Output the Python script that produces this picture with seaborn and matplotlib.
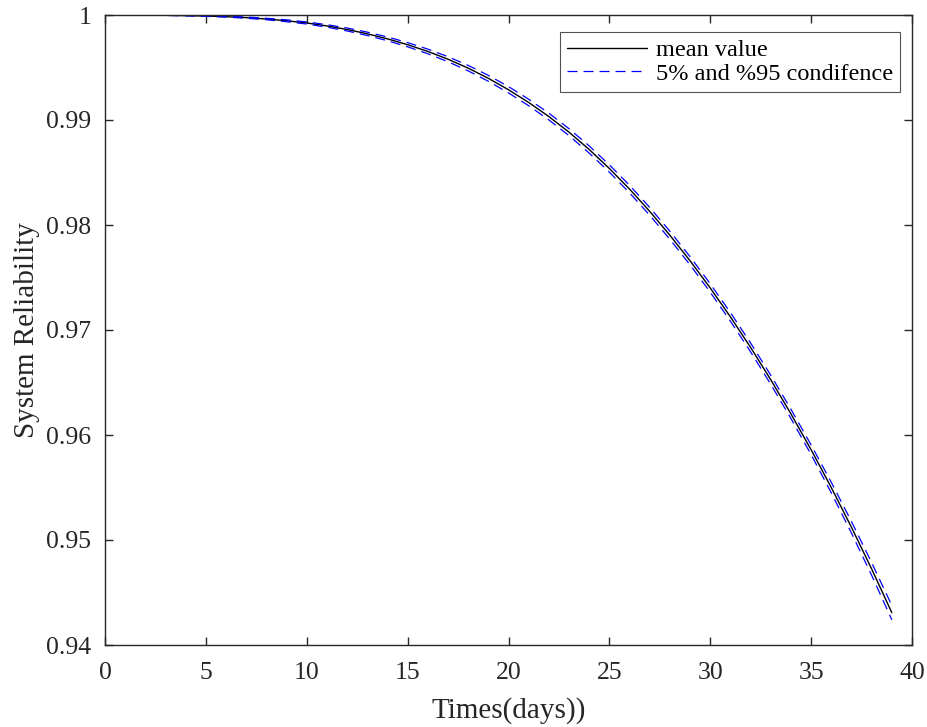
import matplotlib
matplotlib.use("Agg")
import matplotlib.pyplot as plt
import seaborn as sns
import pandas as pd

# Days over which the system reliability is evaluated
days = list(range(0, 40))

# Mean system reliability per day
mean_rel = [1.00000, 1.00000, 0.99999, 0.99997, 0.99994, 0.99990, 0.99984, 0.99975,
            0.99962, 0.99945, 0.99924, 0.99896, 0.99862, 0.99821, 0.99773, 0.99717,
            0.99653, 0.99579, 0.99494, 0.99397, 0.99288, 0.99167, 0.99033, 0.98884,
            0.98719, 0.98538, 0.98342, 0.98130, 0.97902, 0.97659, 0.97400, 0.97125,
            0.96834, 0.96526, 0.96201, 0.95859, 0.95499, 0.95121, 0.94724, 0.94308]

# 95% confidence bound (upper)
upper_rel = [1.00000, 1.00000, 0.99999, 0.99998, 0.99996, 0.99993, 0.99988, 0.99981,
             0.99969, 0.99954, 0.99934, 0.99908, 0.99876, 0.99837, 0.99791, 0.99737,
             0.99675, 0.99603, 0.99520, 0.99425, 0.99318, 0.99198, 0.99065, 0.98917,
             0.98753, 0.98573, 0.98378, 0.98167, 0.97940, 0.97698, 0.97440, 0.97166,
             0.96876, 0.96569, 0.96245, 0.95905, 0.95549, 0.95176, 0.94784, 0.94376]

# 5% confidence bound (lower)
lower_rel = [1.00000, 1.00000, 0.99999, 0.99996, 0.99992, 0.99987, 0.99980, 0.99969,
             0.99955, 0.99936, 0.99914, 0.99884, 0.99848, 0.99805, 0.99755, 0.99697,
             0.99631, 0.99555, 0.99468, 0.99369, 0.99258, 0.99136, 0.99001, 0.98851,
             0.98685, 0.98503, 0.98306, 0.98093, 0.97864, 0.97620, 0.97360, 0.97084,
             0.96792, 0.96483, 0.96157, 0.95813, 0.95449, 0.95066, 0.94664, 0.94240]

x_ticks = [0, 5, 10, 15, 20, 25, 30, 35, 40]
y_ticks = [0.94, 0.95, 0.96, 0.97, 0.98, 0.99, 1.00]
y_tick_labels = ["0.94", "0.95", "0.96", "0.97", "0.98", "0.99", "1"]

df = pd.DataFrame({"day": days, "mean": mean_rel,
                   "upper": upper_rel, "lower": lower_rel})

sns.set_theme(style="white")
plt.rcParams["font.family"] = ["Liberation Serif", "DejaVu Serif"]

FS_TICK = 18.5
FS_LABEL = 21.0
FS = 17.5
INK = "#262626"

fig = plt.figure(figsize=(9.27, 7.27), dpi=100)
ax = fig.add_axes([105 / 927, 1 - 645 / 727, (912 - 105) / 927, (645 - 15) / 727])

dash = (0, (8.0, 4.8))
sns.lineplot(data=df, x="day", y="mean", ax=ax, color="black", lw=1.0,
             label="mean value")
sns.lineplot(data=df, x="day", y="lower", ax=ax, color="#0000ff", lw=0.9,
             linestyle=dash, label="5% and %95 condifence")
sns.lineplot(data=df, x="day", y="upper", ax=ax, color="#0000ff", lw=0.9,
             linestyle=dash, label="_nolegend_")

ax.set_xlim(0, 40)
ax.set_ylim(0.94, 1.0)
ax.set_xticks(x_ticks)
ax.set_xticklabels([str(t) for t in x_ticks])
ax.set_yticks(y_ticks)
ax.set_yticklabels(y_tick_labels)

ax.tick_params(axis="both", which="both", direction="in", length=6, width=1.0,
               colors=INK, labelsize=FS_TICK, top=True, right=True,
               bottom=True, left=True)
ax.tick_params(axis="y", pad=10)
ax.tick_params(axis="x", pad=12)
for sp in ax.spines.values():
    sp.set_visible(True)
    sp.set_color(INK)
    sp.set_linewidth(1.0)

ax.set_xlabel("Times(days))", fontsize=FS_LABEL, color=INK, labelpad=10)
ax.set_ylabel("System Reliability", fontsize=FS_LABEL, color=INK, labelpad=4)

leg = ax.legend(loc="upper right", bbox_to_anchor=((900 - 105) / 807, 1 - (32 - 15) / 630),
                borderaxespad=0, fontsize=FS, frameon=True, fancybox=False,
                handlelength=3.3, handletextpad=0.35, labelspacing=0.05,
                borderpad=0.3, edgecolor=INK)
leg.get_frame().set_linewidth(0.8)
for t in leg.get_texts():
    t.set_color("black")

fig.savefig("out.png", dpi=100)
